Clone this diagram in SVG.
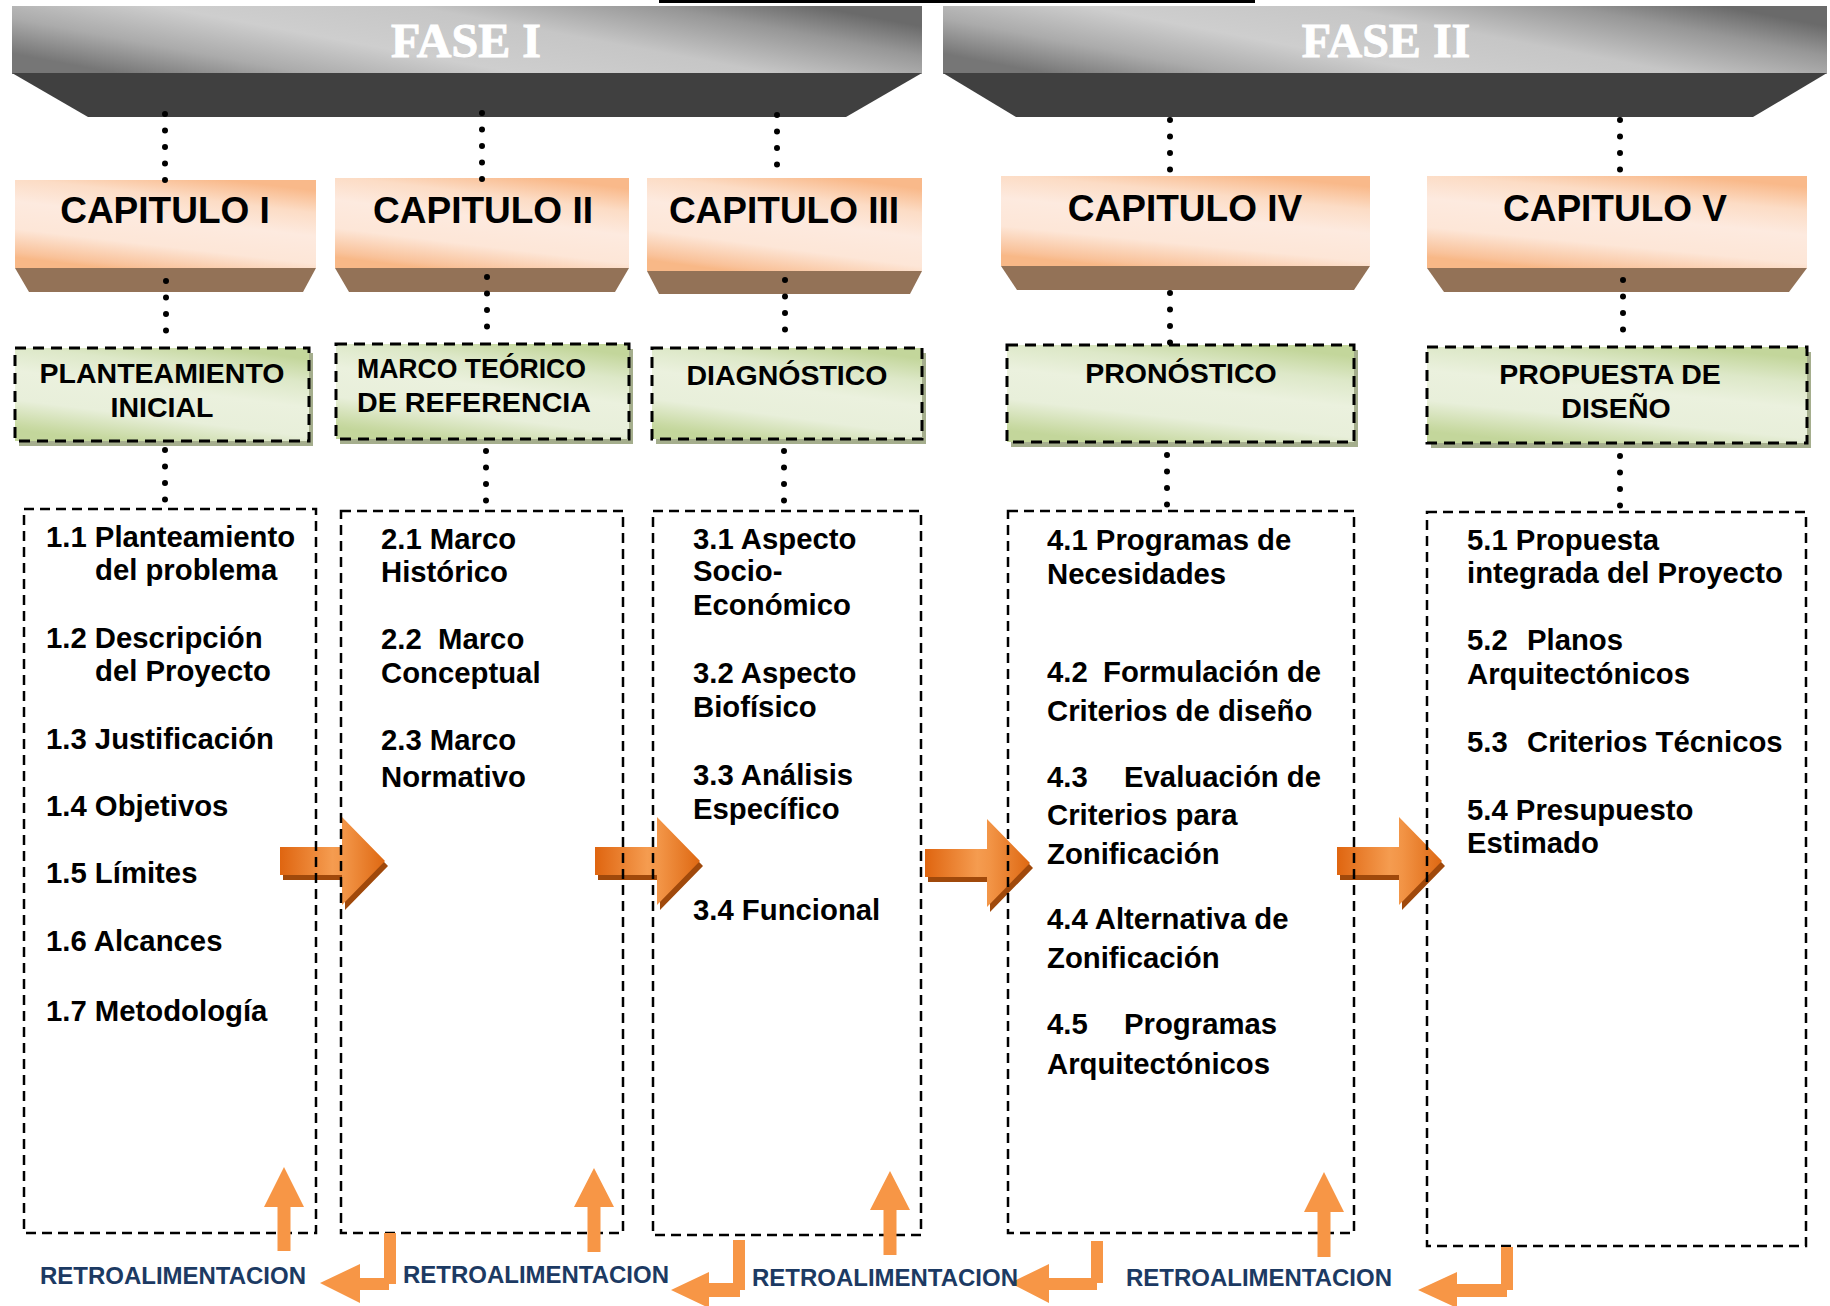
<svg xmlns="http://www.w3.org/2000/svg" width="1830" height="1306" viewBox="0 0 1830 1306">
<style>
.fase{font-family:"Liberation Serif",serif;font-weight:bold;font-size:48px;fill:#fff;stroke:#fff;stroke-width:1;text-anchor:middle}
.capt{font-family:"Liberation Sans",Arial,sans-serif;font-weight:bold;font-size:37px;fill:#000;text-anchor:middle}
.gt{font-family:"Liberation Sans",Arial,sans-serif;font-weight:bold;font-size:28.5px;fill:#000;text-anchor:middle}
.gtl{font-family:"Liberation Sans",Arial,sans-serif;font-weight:bold;font-size:27px;fill:#000}
.bt{font-family:"Liberation Sans",Arial,sans-serif;font-weight:bold;font-size:29.3px;fill:#000}
.rt{font-family:"Liberation Sans",Arial,sans-serif;font-weight:bold;font-size:23px;fill:#1c3a63}
.face{fill:url(#gCap)}
.trap{fill:#937257}
.gbox{fill:url(#gGreen);stroke:#000;stroke-width:3;stroke-dasharray:11 7}
.gsh{fill:#a5ae8d}
.tbox{fill:none;stroke:#000;stroke-width:2.5;stroke-dasharray:10 6}
.dots{stroke:#000;stroke-width:6;stroke-linecap:round;stroke-dasharray:0 16.5;fill:none}
.fb{fill:#f79646}
.band{fill:url(#gGray)}
.dark{fill:#404040}
</style>
<defs>
<linearGradient id="gGray" x1="0" y1="0.7" x2="1" y2="0.3">
<stop offset="0" stop-color="#767676"/>
<stop offset="0.18" stop-color="#ababab"/>
<stop offset="0.38" stop-color="#cecece"/>
<stop offset="0.62" stop-color="#c6c6c6"/>
<stop offset="0.85" stop-color="#979797"/>
<stop offset="1" stop-color="#6a6a6a"/>
</linearGradient>
<linearGradient id="gCap" x1="0.7" y1="0" x2="0.3" y2="1">
<stop offset="0" stop-color="#f9b98a"/>
<stop offset="0.22" stop-color="#fcdcc5"/>
<stop offset="0.45" stop-color="#fdeadf"/>
<stop offset="0.72" stop-color="#fde6d7"/>
<stop offset="0.95" stop-color="#f9c29a"/>
<stop offset="1" stop-color="#f8b887"/>
</linearGradient>
<linearGradient id="gGreen" x1="0.7" y1="0" x2="0.3" y2="1">
<stop offset="0" stop-color="#c3d69b"/>
<stop offset="0.22" stop-color="#dde8c8"/>
<stop offset="0.45" stop-color="#ebf1de"/>
<stop offset="0.72" stop-color="#e8efda"/>
<stop offset="0.95" stop-color="#c9daa4"/>
<stop offset="1" stop-color="#c3d69b"/>
</linearGradient>
<linearGradient id="gArrow" x1="0" y1="0" x2="1" y2="0">
<stop offset="0" stop-color="#df6510"/>
<stop offset="0.5" stop-color="#f59c50"/>
<stop offset="0.62" stop-color="#f29446"/>
<stop offset="1" stop-color="#de6812"/>
</linearGradient>
<path id="bigArrow" d="M0,30 H62 V0 L105,44 L62,88 V58 H0 Z"/>
</defs>

<line x1="659" y1="1.5" x2="1255" y2="1.5" stroke="#000" stroke-width="3"/>

<g id="fase-1">
<rect class="band" x="12" y="6" width="910" height="68"/>
<polygon class="dark" points="12,73 922,73 846,117 88,117"/>
<text class="fase" x="466" y="57">FASE I</text>
</g>
<g id="fase-2">
<rect class="band" x="943" y="6" width="884" height="68"/>
<polygon class="dark" points="943,73 1827,73 1753,117 1016,117"/>
<text class="fase" x="1386" y="57">FASE II</text>
</g>

<g id="capitulo-1">
<rect class="face" x="15" y="180" width="301" height="88"/>
<polygon class="trap" points="15,268 316,268 303,292 29,292"/>
<text class="capt" x="165" y="223">CAPITULO I</text>
</g>
<g id="capitulo-2">
<rect class="face" x="335" y="178" width="294" height="90"/>
<polygon class="trap" points="335,268 629,268 615,292 349,292"/>
<text class="capt" x="483" y="223">CAPITULO II</text>
</g>
<g id="capitulo-3">
<rect class="face" x="647" y="178" width="275" height="93"/>
<polygon class="trap" points="647,271 922,271 910,294 659,294"/>
<text class="capt" x="784" y="223">CAPITULO III</text>
</g>
<g id="capitulo-4">
<rect class="face" x="1001" y="176" width="369" height="90"/>
<polygon class="trap" points="1001,266 1370,266 1354,290 1017,290"/>
<text class="capt" x="1185" y="221">CAPITULO IV</text>
</g>
<g id="capitulo-5">
<rect class="face" x="1427" y="176" width="380" height="92"/>
<polygon class="trap" points="1427,268 1807,268 1789,292 1444,292"/>
<text class="capt" x="1615" y="221">CAPITULO V</text>
</g>

<g id="etapa-1">
<rect class="gsh" x="19" y="353" width="294" height="93"/>
<rect class="gbox" x="15" y="348" width="294" height="93"/>
<text class="gt" x="162" y="383">PLANTEAMIENTO</text>
<text class="gt" x="162" y="417">INICIAL</text>
</g>
<g id="etapa-2">
<rect class="gsh" x="340" y="349" width="293" height="95"/>
<rect class="gbox" x="336" y="344" width="293" height="95"/>
<text class="gtl" x="357" y="378" textLength="229" lengthAdjust="spacingAndGlyphs">MARCO TEÓRICO</text>
<text class="gtl" x="357" y="412" textLength="234" lengthAdjust="spacingAndGlyphs">DE REFERENCIA</text>
</g>
<g id="etapa-3">
<rect class="gsh" x="656" y="353" width="270" height="91"/>
<rect class="gbox" x="652" y="348" width="270" height="91"/>
<text class="gt" x="787" y="385">DIAGNÓSTICO</text>
</g>
<g id="etapa-4">
<rect class="gsh" x="1011" y="350" width="347" height="97"/>
<rect class="gbox" x="1007" y="345" width="347" height="97"/>
<text class="gt" x="1181" y="383">PRONÓSTICO</text>
</g>
<g id="etapa-5">
<rect class="gsh" x="1431" y="352" width="380" height="96"/>
<rect class="gbox" x="1427" y="347" width="380" height="96"/>
<text class="gt" x="1610" y="384">PROPUESTA DE</text>
<text class="gt" x="1616" y="418">DISEÑO</text>
</g>

<g id="connectors">
<line class="dots" x1="165" y1="114" x2="165" y2="181"/>
<line class="dots" x1="166" y1="281" x2="166" y2="347"/>
<line class="dots" x1="165" y1="450" x2="165" y2="500"/>
<line class="dots" x1="482" y1="113" x2="482" y2="180"/>
<line class="dots" x1="487" y1="277" x2="487" y2="343"/>
<line class="dots" x1="486" y1="451" x2="486" y2="501"/>
<line class="dots" x1="777" y1="115" x2="777" y2="181"/>
<line class="dots" x1="785" y1="280" x2="785" y2="346"/>
<line class="dots" x1="784" y1="451" x2="784" y2="501"/>
<line class="dots" x1="1170" y1="120" x2="1170" y2="170"/>
<line class="dots" x1="1170" y1="293" x2="1170" y2="343"/>
<line class="dots" x1="1167" y1="455" x2="1167" y2="505"/>
<line class="dots" x1="1620" y1="120" x2="1620" y2="170"/>
<line class="dots" x1="1623" y1="280" x2="1623" y2="346"/>
<line class="dots" x1="1620" y1="456" x2="1620" y2="506"/>
<use href="#bigArrow" transform="translate(283,822)" fill="#a0490b"/>
<use href="#bigArrow" transform="translate(280,817)" fill="url(#gArrow)"/>
<use href="#bigArrow" transform="translate(598,822)" fill="#a0490b"/>
<use href="#bigArrow" transform="translate(595,817)" fill="url(#gArrow)"/>
<use href="#bigArrow" transform="translate(928,824)" fill="#a0490b"/>
<use href="#bigArrow" transform="translate(925,819)" fill="url(#gArrow)"/>
<use href="#bigArrow" transform="translate(1340,822)" fill="#a0490b"/>
<use href="#bigArrow" transform="translate(1337,817)" fill="url(#gArrow)"/>
</g>

<g id="contenido-1">
<rect class="tbox" x="24" y="509" width="292" height="724"/>
<text class="bt" x="46" y="547">1.1 Planteamiento</text>
<text class="bt" x="95" y="580">del problema</text>
<text class="bt" x="46" y="648">1.2 Descripción</text>
<text class="bt" x="95" y="681">del Proyecto</text>
<text class="bt" x="46" y="749">1.3 Justificación</text>
<text class="bt" x="46" y="816">1.4 Objetivos</text>
<text class="bt" x="46" y="883">1.5 Límites</text>
<text class="bt" x="46" y="951">1.6 Alcances</text>
<text class="bt" x="46" y="1021">1.7 Metodología</text>
</g>
<g id="contenido-2">
<rect class="tbox" x="341" y="511" width="282" height="722"/>
<text class="bt" x="381" y="549">2.1 Marco</text>
<text class="bt" x="381" y="582">Histórico</text>
<text class="bt" x="381" y="649">2.2<tspan x="438">Marco</tspan></text>
<text class="bt" x="381" y="683">Conceptual</text>
<text class="bt" x="381" y="750">2.3 Marco</text>
<text class="bt" x="381" y="787">Normativo</text>
</g>
<g id="contenido-3">
<rect class="tbox" x="653" y="511" width="268" height="724"/>
<text class="bt" x="693" y="549">3.1 Aspecto</text>
<text class="bt" x="693" y="581">Socio-</text>
<text class="bt" x="693" y="615">Económico</text>
<text class="bt" x="693" y="683">3.2 Aspecto</text>
<text class="bt" x="693" y="717">Biofísico</text>
<text class="bt" x="693" y="785">3.3 Análisis</text>
<text class="bt" x="693" y="819">Específico</text>
<text class="bt" x="693" y="920">3.4 Funcional</text>
</g>
<g id="contenido-4">
<rect class="tbox" x="1008" y="511" width="346" height="722"/>
<text class="bt" x="1047" y="550">4.1 Programas de</text>
<text class="bt" x="1047" y="584">Necesidades</text>
<text class="bt" x="1047" y="682">4.2<tspan x="1103">Formulación de</tspan></text>
<text class="bt" x="1047" y="721">Criterios de diseño</text>
<text class="bt" x="1047" y="787">4.3<tspan x="1124">Evaluación de</tspan></text>
<text class="bt" x="1047" y="825">Criterios para</text>
<text class="bt" x="1047" y="864">Zonificación</text>
<text class="bt" x="1047" y="929">4.4 Alternativa de</text>
<text class="bt" x="1047" y="968">Zonificación</text>
<text class="bt" x="1047" y="1034">4.5<tspan x="1124">Programas</tspan></text>
<text class="bt" x="1047" y="1074">Arquitectónicos</text>
</g>
<g id="contenido-5">
<rect class="tbox" x="1427" y="512" width="379" height="734"/>
<text class="bt" x="1467" y="550">5.1 Propuesta</text>
<text class="bt" x="1467" y="583">integrada del Proyecto</text>
<text class="bt" x="1467" y="650">5.2<tspan x="1527">Planos</tspan></text>
<text class="bt" x="1467" y="684">Arquitectónicos</text>
<text class="bt" x="1467" y="752">5.3<tspan x="1527">Criterios Técnicos</tspan></text>
<text class="bt" x="1467" y="820">5.4 Presupuesto</text>
<text class="bt" x="1467" y="853">Estimado</text>
</g>

<g id="retroalimentacion">
<polygon class="fb" points="284,1167 304,1207 290.5,1207 290.5,1251 277.5,1251 277.5,1207 264,1207"/>
<polygon class="fb" points="594,1168 614,1207 600.5,1207 600.5,1252 587.5,1252 587.5,1207 574,1207"/>
<polygon class="fb" points="890,1171 910,1210 896.5,1210 896.5,1255 883.5,1255 883.5,1210 870,1210"/>
<polygon class="fb" points="1324,1172 1344,1212 1330.5,1212 1330.5,1257 1317.5,1257 1317.5,1212 1304,1212"/>
<path class="fb" d="M384,1233 H396 V1284 H389 V1290 H360 V1303 L320,1283 L360,1264 V1278 H384 Z"/>
<path class="fb" d="M733,1240 H745 V1290 H740 V1297 H709 V1308 L671,1290 L709,1272 V1283 H733 Z"/>
<path class="fb" d="M1091,1241 H1103 V1283 H1097 V1290 H1049 V1303 L1010,1283 L1049,1264 V1278 H1091 Z"/>
<path class="fb" d="M1501,1247 H1513 V1290 H1507 V1297 H1457 V1308 L1418,1290 L1457,1272 V1284 H1501 Z"/>
<text class="rt" x="40" y="1284" textLength="266" lengthAdjust="spacingAndGlyphs">RETROALIMENTACION</text>
<text class="rt" x="403" y="1283" textLength="266" lengthAdjust="spacingAndGlyphs">RETROALIMENTACION</text>
<text class="rt" x="752" y="1286" textLength="266" lengthAdjust="spacingAndGlyphs">RETROALIMENTACION</text>
<text class="rt" x="1126" y="1286" textLength="266" lengthAdjust="spacingAndGlyphs">RETROALIMENTACION</text>
</g>
</svg>
